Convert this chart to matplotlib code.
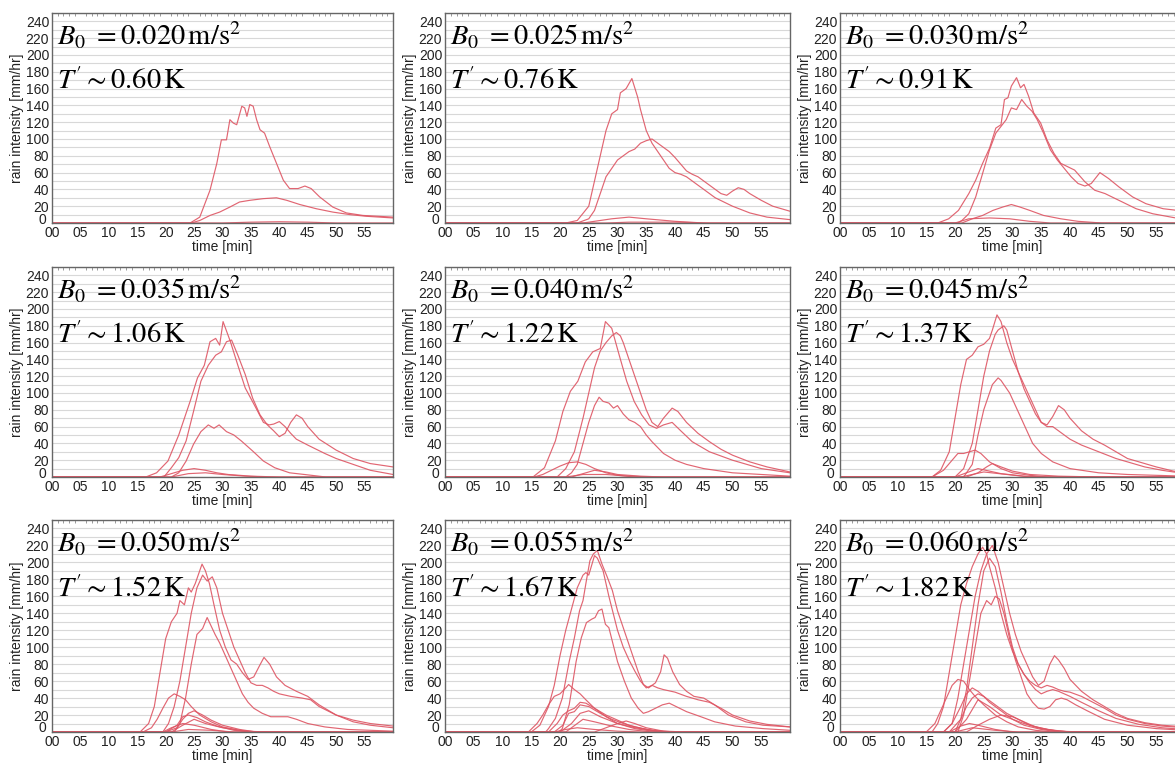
import matplotlib
matplotlib.use("Agg")
import matplotlib.pyplot as plt
import matplotlib.transforms as mtransforms
from matplotlib.ticker import MultipleLocator

plt.rcParams['font.family'] = ['Liberation Sans', 'DejaVu Sans']
plt.rcParams['mathtext.fontset'] = 'stix'

# ---------------- data ----------------
B0_LABELS = ["0.020", "0.025", "0.030", "0.035", "0.040", "0.045", "0.050", "0.055", "0.060"]
T_LABELS = ["0.60", "0.76", "0.91", "1.06", "1.22", "1.37", "1.52", "1.67", "1.82"]
X_TICKS = [0, 5, 10, 15, 20, 25, 30, 35, 40, 45, 50, 55]
X_TICK_LABELS = ["00", "05", "10", "15", "20", "25", "30", "35", "40", "45", "50", "55"]
Y_TICKS = [0, 20, 40, 60, 80, 100, 120, 140, 160, 180, 200, 220, 240]

# each series: list of (time [min], rain intensity [mm/hr])
panel_020 = [
    [(0, 0), (24.3, 0), (26, 7), (27.8, 39), (29, 71), (29.8, 99), (30.7, 99), (31.3, 123), (31.9, 119),
     (32.5, 117), (33.4, 139), (33.9, 137), (34.3, 127), (34.8, 141), (35.4, 139), (36, 123), (36.6, 111),
     (37.4, 107), (38.3, 91), (39.5, 71), (40.7, 51), (41.8, 41), (43.3, 41), (44.5, 44), (45.6, 41),
     (47.1, 31), (49.4, 19), (51.8, 12), (54.7, 9), (60, 7)],
    [(0, 0), (24.5, 0), (26, 3), (27.8, 9), (29.5, 13), (31.3, 19), (33, 25), (34.8, 27), (37.2, 29),
     (39.5, 30), (41.3, 27), (43.6, 22), (46.5, 17), (49.4, 13), (52.4, 10), (55.3, 8), (60, 6)],
    [(0, 0), (30, 0), (35, 1), (40, 1.5), (45, 1), (50, 0), (60, 0)],
    [(0, 0), (60, 0)],
]

panel_025 = [
    [(0, 0), (21, 0), (23, 3), (25, 20), (26, 50), (27, 80), (28, 110), (29, 130), (30, 135), (30.5, 155),
     (31.5, 160), (32.5, 172), (33.5, 150), (34, 135), (35, 110), (36, 95), (37, 85), (38, 75), (39, 65),
     (40, 60), (41, 58), (42, 55), (43, 50), (45, 40), (47, 30), (50, 20), (53, 12), (56, 7), (60, 4)],
    [(0, 0), (23, 0), (25, 5), (26, 15), (27, 35), (28, 55), (29, 65), (30, 75), (31, 80), (32, 85), (33, 88),
     (34, 95), (35, 98), (36, 100), (37, 95), (38, 90), (39, 85), (40, 78), (41, 70), (42, 62), (43, 58),
     (44, 55), (45, 50), (46, 45), (47, 40), (48, 35), (49, 33), (50, 38), (51, 42), (52, 40), (53, 35),
     (55, 27), (57, 20), (60, 14)],
    [(0, 0), (24, 0), (26, 2), (29, 5), (32, 7), (35, 5), (40, 2), (45, 0), (60, 0)],
    [(0, 0), (28, 0), (32, 1), (40, 1), (46, 0), (60, 0)],
]

panel_030 = [
    [(0, 0), (17, 0), (18.9, 5), (20.6, 15), (22.4, 35), (23.6, 51), (24.8, 71), (26, 89), (27.1, 113),
     (28, 117), (28.6, 147), (29.2, 149), (29.8, 163), (30.7, 173), (31.4, 161), (32, 165), (32.8, 151),
     (33.7, 131), (34.9, 119), (36, 99), (37.2, 83), (38.4, 71), (39.6, 67), (40.8, 63), (42.6, 49),
     (44.3, 39), (46.1, 35), (48.5, 27), (51.5, 17), (54.4, 11), (60, 4)],
    [(0, 0), (20.5, 0), (21.2, 3), (22.4, 11), (23.6, 31), (24.8, 59), (26, 87), (27.1, 107), (28, 115),
     (28.9, 123), (29.8, 137), (30.7, 135), (31.6, 147), (32.5, 139), (33.4, 133), (34.3, 123), (35.4, 107),
     (36.6, 87), (37.8, 75), (39, 65), (40.2, 55), (41.4, 47), (42.6, 44), (43.7, 47), (45.2, 60), (46.7, 53),
     (48.5, 43), (50.9, 31), (53.2, 23), (56.2, 17), (60, 14)],
    [(0, 0), (21.2, 0), (23, 5), (24.8, 9), (26.6, 15), (28.3, 19), (29.8, 22), (31.3, 19), (33, 15),
     (35.4, 9), (38.4, 5), (41.4, 2), (45.5, 0), (60, 0)],
    [(0, 0), (20, 0), (22.4, 5), (26, 6), (29.5, 5), (33, 2), (36.6, 0), (60, 0)],
]

panel_035 = [
    [(0, 0), (16.5, 0), (18.4, 5), (20.4, 19), (22.3, 50), (24.3, 90), (25.6, 118), (26.8, 133), (27.8, 161),
     (28.8, 165), (29.5, 157), (30.1, 185), (31.4, 161), (32.7, 133), (34, 106), (35.9, 82), (37.2, 65),
     (38.2, 62), (39, 63), (40, 66), (41, 60), (42, 52), (43, 45), (45, 38), (48, 28), (50, 22), (53, 15),
     (56, 8), (60, 3)],
    [(0, 0), (19.7, 0), (21, 11), (22.3, 23), (23.6, 43), (24.9, 78), (26.2, 114), (27.5, 133), (28.8, 145),
     (29.8, 149), (30.7, 161), (31.6, 163), (32.7, 145), (34, 122), (35.3, 94), (36.6, 74), (37.9, 62),
     (39, 55), (40, 48), (41, 52), (42, 65), (43, 74), (44, 70), (45, 60), (47, 45), (50, 32), (53, 22),
     (56, 16), (60, 12)],
    [(0, 0), (21, 0), (22.3, 5), (23.6, 19), (24.9, 39), (26.2, 54), (27.5, 62), (28.5, 58), (29.4, 62),
     (30.7, 54), (32, 50), (33.3, 43), (35.3, 31), (37.2, 19), (39.2, 11), (41.8, 5), (44.4, 3), (48.2, 0),
     (60, 0)],
    [(0, 0), (19, 0), (21, 4), (23, 8), (25, 10), (27, 8), (29, 5), (31, 3), (35, 1), (40, 0), (60, 0)],
    [(0, 0), (21, 0), (24, 4), (27, 5), (30, 3), (34, 1), (38, 0), (60, 0)],
]

panel_040 = [
    [(0, 0), (15.3, 0), (17.3, 11), (19.2, 43), (20.5, 78), (21.8, 102), (23.1, 114), (24.4, 137), (25.7, 149),
     (27, 153), (27.9, 185), (29, 177), (30.3, 145), (31.6, 114), (32.9, 90), (34.2, 74), (35.5, 62),
     (36.8, 58), (38, 62), (39.5, 65), (41, 55), (43, 42), (46, 30), (50, 20), (55, 10), (60, 5)],
    [(0, 0), (19.5, 0), (21, 10), (22.5, 30), (24, 70), (25, 100), (26, 130), (27, 150), (28, 160), (29, 168),
     (29.8, 172), (30.5, 168), (31, 160), (32, 140), (33, 120), (34, 100), (35, 80), (36, 65), (37, 60),
     (38, 70), (39.5, 82), (40.5, 78), (42, 65), (44, 52), (46, 42), (48, 33), (50, 26), (53, 18), (56, 12),
     (60, 6)],
    [(0, 0), (21, 0), (22, 5), (23, 15), (24, 40), (25, 65), (26, 85), (26.8, 95), (27.5, 90), (28.5, 88),
     (29.3, 82), (30, 85), (31, 75), (32, 68), (33, 65), (34, 60), (35, 50), (36, 42), (37, 35), (38, 28),
     (40, 20), (42, 15), (45, 10), (50, 5), (55, 3), (60, 1)],
    [(0, 0), (15.5, 0), (17, 3), (18.5, 8), (20, 13), (21.5, 17), (23, 18), (24.5, 15), (26, 10), (28, 5),
     (30, 2), (33, 0), (60, 0)],
    [(0, 0), (22, 0), (24, 4), (26, 8), (28, 6), (30, 3), (34, 1), (38, 0), (60, 0)],
    [(0, 0), (21, 0), (24, 3), (28, 3), (32, 1), (36, 0), (60, 0)],
]

panel_045 = [
    [(0, 0), (16, 0), (17.5, 8), (19, 30), (20, 70), (21, 110), (22, 140), (23, 145), (24, 155), (25, 158),
     (26, 165), (26.5, 175), (27.3, 193), (28, 185), (29, 160), (30, 140), (31, 125), (32, 110), (33, 95),
     (34, 80), (35, 65), (36, 60), (37, 60), (38, 55), (40, 45), (42, 38), (45, 30), (48, 22), (50, 18),
     (53, 12), (56, 8), (60, 4)],
    [(0, 0), (20, 0), (21.5, 10), (23, 40), (24, 80), (25, 120), (26, 150), (27, 170), (27.5, 175),
     (28.5, 180), (29, 175), (30, 150), (31, 125), (32, 105), (33, 90), (34, 75), (35, 65), (36, 62),
     (37, 72), (38, 85), (39, 80), (40, 70), (42, 55), (44, 45), (46, 38), (48, 30), (50, 22), (52, 18),
     (55, 12), (58, 7), (60, 5)],
    [(0, 0), (21.5, 0), (23, 15), (24, 50), (25, 80), (26, 100), (26.5, 110), (27.5, 118), (28, 115),
     (28.7, 108), (29.5, 100), (30.5, 85), (31.5, 70), (32.5, 55), (33.5, 40), (35, 28), (37, 18), (40, 10),
     (45, 5), (50, 3), (60, 1)],
    [(0, 0), (16, 0), (18, 8), (19.5, 20), (20.5, 28), (21.5, 28), (22.5, 30), (23.5, 32), (24.5, 28),
     (26, 18), (28, 10), (30, 5), (33, 2), (36, 0), (60, 0)],
    [(0, 0), (22, 0), (24, 5), (25.5, 12), (26.5, 16), (28, 12), (30, 7), (33, 3), (38, 1), (45, 0), (60, 0)],
    [(0, 0), (20, 0), (22, 5), (24, 10), (26, 7), (28, 4), (32, 1), (36, 0), (60, 0)],
    [(0, 0), (21, 0), (25, 6), (29, 3), (33, 0), (60, 0)],
]

panel_050 = [
    [(0, 0), (15.5, 0), (17, 10), (18, 30), (19, 70), (20, 110), (21, 130), (22, 140), (22.5, 155),
     (23.3, 150), (24, 170), (24.5, 165), (25.2, 175), (26.4, 198), (27, 190), (27.7, 175), (28.5, 150),
     (29.5, 120), (30.5, 100), (31.5, 85), (32.5, 80), (33.5, 70), (34.5, 62), (35.5, 65), (36.5, 78),
     (37.3, 88), (38.3, 80), (39.5, 65), (41, 55), (43, 48), (45, 42), (47, 32), (50, 20), (53, 12),
     (56, 8), (60, 5)],
    [(0, 0), (19.5, 0), (20.5, 10), (21.5, 30), (22.5, 60), (23.5, 100), (24.5, 140), (25.5, 170),
     (26.5, 185), (27.3, 178), (28.2, 183), (29, 170), (30, 140), (31, 120), (32, 100), (33, 85), (34, 70),
     (35, 58), (36, 55), (37, 55), (38, 52), (39, 48), (40, 45), (42, 42), (44, 40), (45.5, 38), (47, 30),
     (50, 20), (53, 14), (56, 10), (60, 7)],
    [(0, 0), (21.5, 0), (22.5, 10), (23.5, 40), (24.5, 80), (25.5, 115), (26.5, 122), (27.3, 135),
     (28, 125), (28.7, 115), (29.5, 105), (30.5, 90), (31.5, 75), (32.5, 60), (33.5, 45), (34.5, 35),
     (35.5, 28), (37, 22), (38.5, 18), (40, 18), (41.5, 18), (43, 15), (45, 10), (48, 6), (52, 3), (60, 1)],
    [(0, 0), (16, 0), (17.5, 5), (18.5, 15), (19.5, 28), (20.5, 40), (21.5, 45), (22.5, 42), (23.5, 38),
     (24.5, 30), (26, 20), (28, 12), (30, 6), (33, 2), (36, 0), (60, 0)],
    [(0, 0), (20, 0), (22, 5), (23, 15), (24, 22), (25, 25), (26.5, 20), (28, 14), (30, 8), (33, 3),
     (36, 0), (60, 0)],
    [(0, 0), (20, 0), (22, 8), (23, 18), (24, 20), (25.5, 17), (27, 12), (29, 7), (32, 2), (35, 0), (60, 0)],
    [(0, 0), (21, 0), (23, 8), (25, 15), (27, 10), (30, 5), (34, 1), (38, 0), (60, 0)],
    [(0, 0), (19.5, 0), (21, 5), (23, 10), (25, 8), (28, 3), (31, 0), (60, 0)],
    [(0, 0), (21, 0), (24, 3), (28, 2), (32, 0), (60, 0)],
]

panel_055 = [
    [(0, 0), (15, 0), (16.5, 8), (18, 30), (19, 55), (20, 90), (21, 120), (22, 145), (23, 170), (24, 185),
     (24.5, 188), (25, 185), (26, 208), (26.5, 205), (27.5, 190), (28.5, 160), (30, 120), (31, 100),
     (32, 85), (33, 72), (34, 60), (35, 52), (36, 55), (37, 52), (38, 50), (40, 47), (42, 42), (44, 38),
     (46, 35), (48, 28), (50, 20), (53, 13), (56, 9), (60, 6)],
    [(0, 0), (17.5, 0), (18, 4), (19.2, 16), (20.4, 40), (21.6, 83), (22.5, 111), (23.4, 143), (24, 155),
     (24.6, 179), (25.2, 202), (25.8, 210), (26.5, 214), (27.3, 198), (28.2, 183), (29.1, 167), (30, 143),
     (31.2, 119), (32.4, 95), (33.6, 71), (34.5, 56), (35.4, 52), (36.6, 58), (37.5, 71), (38.1, 91),
     (38.7, 87), (39.6, 71), (40.8, 56), (42, 48), (43.3, 42), (45, 40), (46.9, 32), (49.3, 20), (52.3, 12),
     (55.3, 8), (60, 6)],
    [(0, 0), (19.8, 0), (20.4, 4), (21.6, 32), (22.8, 83), (23.7, 111), (24.6, 129), (25.5, 133),
     (26.1, 135), (26.7, 143), (27.3, 145), (27.9, 127), (28.5, 123), (29.1, 107), (30, 83), (31.2, 60),
     (32.4, 40), (33.6, 28), (34.5, 22), (35.4, 24), (36.6, 28), (37.8, 32), (39, 34), (40.2, 30), (42, 24),
     (44.5, 18), (46.9, 12), (50.5, 7), (55.3, 4), (60, 2)],
    [(0, 0), (14.5, 0), (16, 10), (17, 20), (18, 32), (19, 42), (20, 45), (21, 52), (21.5, 56), (22.5, 50),
     (23.5, 45), (24.5, 38), (26, 28), (28, 18), (30, 10), (33, 4), (36, 1), (40, 0), (60, 0)],
    [(0, 0), (18, 0), (19.5, 10), (20.5, 20), (21.5, 25), (22.5, 28), (23.5, 35), (24.5, 34), (26, 28),
     (28, 20), (30, 14), (32, 8), (35, 3), (38, 0), (60, 0)],
    [(0, 0), (19, 0), (20.5, 8), (21.5, 22), (22.5, 24), (23.5, 32), (25, 30), (27, 22), (29, 15), (31, 10),
     (33, 6), (36, 2), (40, 0), (60, 0)],
    [(0, 0), (20, 0), (22, 10), (23.5, 22), (25, 25), (27, 18), (30, 10), (33, 5), (37, 1), (40, 0), (60, 0)],
    [(0, 0), (21, 0), (23, 10), (24, 15), (26, 12), (29, 7), (32, 3), (36, 0), (60, 0)],
    [(0, 0), (19, 0), (21, 3), (23, 5), (26, 3), (30, 1), (34, 0), (60, 0)],
    [(0, 0), (26, 0), (28, 5), (30, 10), (31.5, 13), (33, 10), (35, 5), (38, 1), (42, 0), (60, 0)],
]

panel_060 = [
    [(0, 0), (16, 0), (17, 10), (18, 30), (19, 70), (20, 110), (21, 150), (22, 175), (23, 195), (24, 210),
     (24.8, 218), (25.5, 210), (26, 195), (27, 170), (28, 140), (29, 115), (30, 95), (31, 80), (32, 68),
     (33, 60), (34, 55), (35, 52), (36, 55), (37, 53), (38, 50), (39, 48), (40, 47), (42, 42), (44, 35),
     (46, 28), (48, 20), (50, 15), (53, 10), (56, 7), (60, 5)],
    [(0, 0), (18, 0), (19.5, 10), (20.5, 40), (21.5, 80), (22.5, 120), (23.5, 160), (24.5, 190), (25.5, 210),
     (26.5, 220), (27.5, 200), (28.5, 170), (29.5, 140), (30.5, 115), (31.5, 95), (32.5, 80), (33.5, 65),
     (34.5, 55), (35.5, 60), (36.5, 80), (37.3, 90), (38, 85), (39, 75), (40, 62), (42, 48), (44, 38),
     (46, 30), (48, 22), (50, 16), (53, 11), (56, 8), (60, 6)],
    [(0, 0), (20, 0), (21, 15), (22, 50), (23, 100), (24, 150), (25, 190), (26, 205), (27, 195), (28, 165),
     (29, 130), (30, 100), (31, 80), (32, 68), (33, 58), (34, 50), (35, 45), (36, 48), (37, 50), (38, 48),
     (40, 42), (42, 35), (45, 25), (48, 16), (52, 9), (56, 5), (60, 3)],
    [(0, 0), (20.5, 0), (21.5, 20), (22.5, 60), (23.5, 100), (24.5, 140), (25.5, 155), (26.3, 150),
     (27, 160), (27.7, 157), (28.5, 140), (29.5, 110), (30.5, 85), (31.5, 65), (32.5, 45), (33.5, 35),
     (34.5, 28), (35.5, 27), (36.5, 30), (37.5, 38), (38.5, 40), (39.5, 38), (41, 32), (43, 25), (46, 15),
     (50, 8), (55, 4), (60, 2)],
    [(0, 0), (15, 0), (16.5, 10), (17.5, 25), (18.5, 40), (19.5, 55), (20.5, 62), (21.5, 60), (22.5, 50),
     (23.5, 42), (25, 32), (27, 20), (29, 12), (31, 6), (34, 2), (37, 0), (60, 0)],
    [(0, 0), (18, 0), (19.5, 10), (21, 30), (22, 45), (23, 52), (24, 48), (25, 42), (26, 35), (28, 25),
     (30, 15), (32, 8), (35, 3), (38, 0), (60, 0)],
    [(0, 0), (19, 0), (21, 15), (22, 30), (23, 40), (24, 45), (25, 42), (27, 32), (29, 22), (31, 15),
     (33, 8), (36, 3), (40, 0), (60, 0)],
    [(0, 0), (20, 0), (22, 15), (24, 38), (26, 30), (28, 20), (30, 15), (32, 10), (35, 4), (38, 1),
     (42, 0), (60, 0)],
    [(0, 0), (22, 0), (24, 8), (26, 15), (28, 20), (30, 18), (32, 12), (34, 6), (37, 2), (40, 0), (60, 0)],
    [(0, 0), (19, 0), (21, 7), (22.5, 10), (24, 8), (27, 3), (30, 0), (60, 0)],
    [(0, 0), (20, 0), (23, 5), (27, 2), (31, 0), (60, 0)],
]

PANELS = [panel_020, panel_025, panel_030, panel_035, panel_040,
          panel_045, panel_050, panel_055, panel_060]

# ---------------- layout ----------------
W, H = 1175, 765
fig = plt.figure(figsize=(W / 100, H / 100), dpi=100)
fig.patch.set_facecolor('white')

col_left = [52, 445, 840]
col_width = [341, 345, 345]
row_top = [13, 267, 520]
row_bottom = [223, 477, 732]

LINE_COLOR = '#de5563'

for i, series in enumerate(PANELS):
    r, c = divmod(i, 3)
    l = col_left[c] / W
    b = 1 - row_bottom[r] / H
    w = col_width[c] / W
    h = (row_bottom[r] - row_top[r]) / H
    ax = fig.add_axes([l, b, w, h])

    for pts in series:
        t = [p[0] for p in pts]
        v = [p[1] for p in pts]
        ax.plot(t, v, color=LINE_COLOR, lw=0.85, alpha=0.9, solid_joinstyle='round')

    ax.set_xlim(0, 60)
    ax.set_ylim(0, 250)
    ax.set_xticks(X_TICKS)
    ax.set_xticklabels(X_TICK_LABELS)
    ax.set_yticks(Y_TICKS)
    ax.yaxis.set_minor_locator(MultipleLocator(10))
    ax.xaxis.set_minor_locator(MultipleLocator(1))
    ax.grid(axis='y', which='both', color='#d8d8d8', lw=0.8)
    ax.set_axisbelow(True)
    ax.tick_params(axis='both', which='major', labelsize=10, length=0, pad=2, colors='#222222')
    ax.tick_params(axis='y', which='minor', length=0)
    ax.tick_params(axis='x', which='minor', direction='in', length=2.5, top=True, bottom=False,
                   color='#888888')
    for sp in ax.spines.values():
        sp.set_color('#666666')
        sp.set_linewidth(1.0)
    ax.set_xlabel('time [min]', fontsize=10, labelpad=0, color='#222222')
    ax.set_ylabel('rain intensity [mm/hr]', fontsize=10, labelpad=1, color='#222222')

    # raise the "0" y tick label a bit so it does not collide with "00"
    ylab0 = ax.get_yticklabels()[0]
    ylab0.set_transform(ylab0.get_transform() +
                        mtransforms.ScaledTranslation(-0.03, 0.05, fig.dpi_scale_trans))

    ax.text(0.015, 0.848, r'$B_0\ =0.%s\,\mathrm{m/s^2}$' % B0_LABELS[i][2:],
            transform=ax.transAxes, fontsize=20.5, va='baseline', ha='left', color='black')
    ax.text(0.015, 0.638, r"$T'\sim%s\,\mathrm{K}$" % T_LABELS[i],
            transform=ax.transAxes, fontsize=20.5, va='baseline', ha='left', color='black')

fig.savefig('out.png', dpi=100, facecolor='white')
